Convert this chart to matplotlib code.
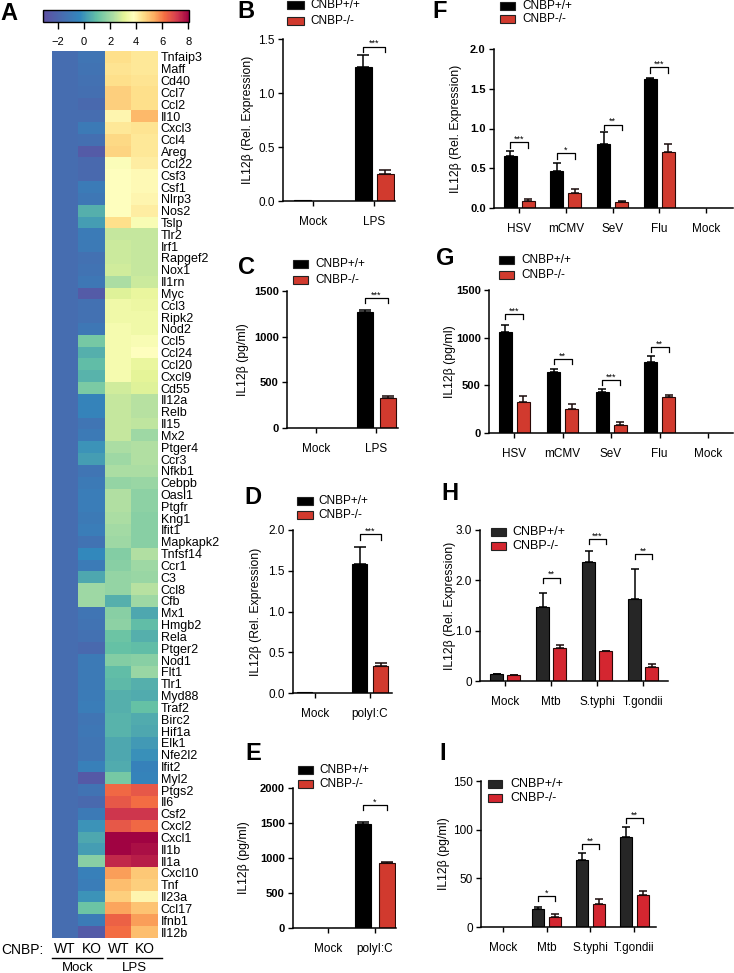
import numpy as np
import matplotlib
matplotlib.use('Agg')
import matplotlib.pyplot as plt
from matplotlib.colors import LinearSegmentedColormap
from matplotlib.patches import Rectangle
from matplotlib.lines import Line2D

plt.rcParams['font.family'] = ['Liberation Sans', 'DejaVu Sans']

W, H = 734, 973
fig = plt.figure(figsize=(W / 100, H / 100), dpi=100)

# ------------------------------------------------------------------ data
genes = ['Tnfaip3', 'Maff', 'Cd40', 'Ccl7', 'Ccl2', 'Il10', 'Cxcl3', 'Ccl4', 'Areg', 'Ccl22',
         'Csf3', 'Csf1', 'Nlrp3', 'Nos2', 'Tslp', 'Tlr2', 'Irf1', 'Rapgef2', 'Nox1', 'Il1rn',
         'Myc', 'Ccl3', 'Ripk2', 'Nod2', 'Ccl5', 'Ccl24', 'Ccl20', 'Cxcl9', 'Cd55', 'Il12a',
         'Relb', 'Il15', 'Mx2', 'Ptger4', 'Ccr3', 'Nfkb1', 'Cebpb', 'Oasl1', 'Ptgfr', 'Kng1',
         'Ifit1', 'Mapkapk2', 'Tnfsf14', 'Ccr1', 'C3', 'Ccl8', 'Cfb', 'Mx1', 'Hmgb2', 'Rela',
         'Ptger2', 'Nod1', 'Flt1', 'Tlr1', 'Myd88', 'Traf2', 'Birc2', 'Hif1a', 'Elk1', 'Nfe2l2',
         'Ifit2', 'Myl2', 'Ptgs2', 'Il6', 'Csf2', 'Cxcl2', 'Cxcl1', 'Il1b', 'Il1a', 'Cxcl10',
         'Tnf', 'Il23a', 'Ccl17', 'Ifnb1', 'Il12b']
wt_mock = [-1.6] * 75
ko_mock = [-1.2, -1.3, -1.4, -1.5, -1.8, -1.6, -1.0, -1.5, -2.5, -1.8,
           -1.8, -0.9, -1.1, 0.6, 0.2, -0.9, -1.0, -1.4, -1.3, -1.1,
           -2.5, -1.4, -1.4, -1.1, 1.3, 0.6, 0.9, 0.7, 1.4, -0.5,
           -0.5, -1.2, -1.0, 0.0, 0.2, -1.2, -1.0, -0.8, -0.8, -1.0,
           -0.8, -1.3, -0.3, -0.9, 0.4, 2.0, 2.0, -1.2, -1.3, -1.4,
           -1.8, -1.0, -1.0, -1.0, -0.9, -0.8, -1.2, -1.1, -1.2, -1.2,
           -0.7, -2.6, -1.3, -1.8, -1.0, 0.0, 0.4, 0.2, 1.6, -0.7,
           -0.8, 0.0, 1.1, -0.9, -2.5]
wt_lps = [4.5, 4.4, 4.5, 4.8, 4.8, 4.0, 4.3, 4.6, 4.7, 3.7,
          3.8, 3.8, 3.8, 3.8, 4.5, 2.6, 2.7, 2.7, 2.8, 2.2,
          3.0, 3.4, 3.4, 3.5, 3.5, 3.5, 3.5, 3.5, 2.8, 2.6,
          2.6, 2.6, 2.6, 2.2, 2.0, 2.2, 1.8, 2.3, 2.3, 2.2,
          2.1, 2.0, 1.5, 1.6, 1.8, 1.8, 0.6, 1.6, 1.7, 1.1,
          1.0, 1.5, 0.9, 0.8, 0.6, 0.6, 0.7, 0.7, 0.4, 0.4,
          0.5, 1.3, 6.3, 6.6, 7.2, 6.6, 8.0, 8.0, 7.4, 5.6,
          5.1, 4.8, 5.5, 6.4, 6.2]
ko_lps = [4.3, 4.3, 4.4, 4.5, 4.5, 5.2, 4.4, 4.3, 4.3, 4.2,
          3.9, 3.9, 4.0, 4.2, 3.6, 2.6, 2.6, 2.6, 2.6, 2.7,
          3.2, 3.3, 3.4, 3.4, 3.6, 3.8, 3.2, 3.1, 3.0, 2.4,
          2.4, 2.5, 2.0, 2.3, 2.3, 2.2, 1.9, 1.7, 1.7, 1.6,
          1.6, 1.6, 2.3, 2.0, 1.9, 2.4, 2.0, 0.4, 0.9, 0.6,
          0.9, 1.6, 1.9, 0.6, 0.5, 1.0, 0.5, 0.4, 0.1, -0.1,
          -0.6, -0.5, 6.6, 6.2, 7.2, 6.3, 8.0, 7.8, 7.6, 4.9,
          4.8, 4.0, 5.0, 5.6, 5.1]
heat_cols = ['WT', 'KO', 'WT', 'KO']
heat_groups = ['Mock', 'LPS']
cbar_ticks = [-2, 0, 2, 4, 6, 8]

series = ['CNBP+/+', 'CNBP-/-']

b_cats = ['Mock', 'LPS']
b_wt, b_wt_err = [0.006, 1.24], [0, 0.11]
b_ko, b_ko_err = [0.0, 0.25], [0, 0.04]
b_sig = [(1, 1.43, '***')]

c_cats = ['Mock', 'LPS']
c_wt, c_wt_err = [0, 1270], [0, 20]
c_ko, c_ko_err = [0, 330], [0, 25]
c_sig = [(1, 1420, '***')]

d_cats = ['Mock', 'polyI:C']
d_wt, d_wt_err = [0.01, 1.58], [0, 0.21]
d_ko, d_ko_err = [0.0, 0.33], [0, 0.04]
d_sig = [(1, 1.95, '***')]

e_cats = ['Mock', 'polyI:C']
e_wt, e_wt_err = [0, 1480], [0, 40]
e_ko, e_ko_err = [0, 930], [0, 10]
e_sig = [(1, 1760, '*')]

f_cats = ['HSV', 'mCMV', 'SeV', 'Flu', 'Mock']
f_wt, f_wt_err = [0.65, 0.47, 0.81, 1.62, 0.006], [0.07, 0.10, 0.14, 0.02, 0]
f_ko, f_ko_err = [0.09, 0.19, 0.07, 0.71, 0.0], [0.02, 0.05, 0.02, 0.09, 0]
f_sig = [(0, 0.83, '***'), (1, 0.69, '*'), (2, 1.05, '**'), (3, 1.77, '***')]

g_cats = ['HSV', 'mCMV', 'SeV', 'Flu', 'Mock']
g_wt, g_wt_err = [1060, 635, 435, 745, 0], [75, 40, 25, 65, 0]
g_ko, g_ko_err = [330, 250, 80, 375, 0], [55, 50, 35, 25, 0]
g_sig = [(0, 1250, '***'), (1, 775, '**'), (2, 555, '***'), (3, 900, '**')]

h_cats = ['Mock', 'Mtb', 'S.typhi', 'T.gondii']
h_wt, h_wt_err = [0.13, 1.47, 2.37, 1.63], [0.01, 0.28, 0.21, 0.60]
h_ko, h_ko_err = [0.11, 0.65, 0.59, 0.27], [0.01, 0.07, 0.01, 0.07]
h_sig = [(1, 2.05, '**'), (2, 2.82, '***'), (3, 2.52, '**')]

i_cats = ['Mock', 'Mtb', 'S.typhi', 'T.gondii']
i_wt, i_wt_err = [0, 18, 69, 92], [0, 3, 7, 11]
i_ko, i_ko_err = [0, 10, 24, 33], [0, 3, 5, 4]
i_sig = [(1, 32, '*'), (2, 85, '**'), (3, 112, '**')]


# ------------------------------------------------------------------ helpers
def px_axes(l, t, r, b):
    return fig.add_axes([l / W, 1 - b / H, (r - l) / W, (b - t) / H])


def fx(x):
    return x / W


def fy(y):
    return 1 - y / H


def letter(txt, x, y):
    fig.text(fx(x), fy(y), txt, fontsize=17, fontweight='bold', ha='center', va='center')


def legend(x, y_black, y_red, sq_w, sq_h, tx, fs, black, red):
    for yy, col, lab in [(y_black, black, series[0]), (y_red, red, series[1])]:
        fig.add_artist(Rectangle((fx(x), fy(yy + sq_h)), sq_w / W, sq_h / H,
                                 transform=fig.transFigure, facecolor=col,
                                 edgecolor='#222222', lw=0.8))
        fig.text(fx(tx), fy(yy + sq_h / 2), lab, fontsize=fs, ha='left', va='center')


def bar_panel(box, c0, sp, cats, wt, wt_err, ko, ko_err, ymax, yticks, ytl, ylabel,
              sigs, width_px, off_px, bold, black, red, label_x, capsize=3.5, yfs=8.5):
    l, t, r, b = box
    ax = px_axes(l, t, r, b)
    x = np.arange(len(cats))
    w = width_px / sp
    off = off_px / sp
    wt_e = [np.zeros(len(cats)), np.array(wt_err, float)]
    ko_e = [np.zeros(len(cats)), np.array(ko_err, float)]
    ax.bar(x - off, wt, w, color=black, edgecolor='black', lw=0.8, zorder=2)
    ax.bar(x + off, ko, w, color=red, edgecolor='#2a0806', lw=0.8, zorder=2)
    m1 = np.array(wt_err) > 0
    m2 = np.array(ko_err) > 0
    ax.errorbar((x - off)[m1], np.array(wt)[m1], yerr=[a[m1] for a in wt_e], fmt='none',
                ecolor='black', elinewidth=1.1, capsize=capsize, capthick=1.1, zorder=3)
    ax.errorbar((x + off)[m2], np.array(ko)[m2], yerr=[a[m2] for a in ko_e], fmt='none',
                ecolor='#1a0a0a', elinewidth=1.1, capsize=capsize, capthick=1.1, zorder=3)
    ax.set_xlim((l - c0) / sp, (r - c0) / sp)
    ax.set_ylim(0, ymax)
    for s in ['top', 'right']:
        ax.spines[s].set_visible(False)
    for s in ['left', 'bottom']:
        ax.spines[s].set_linewidth(1.1)
    ax.set_xticks(x)
    ax.set_xticklabels(cats, fontsize=8.5)
    ax.set_yticks(yticks)
    ax.set_yticklabels(ytl, fontsize=yfs, fontweight='bold' if bold else 'normal')
    ax.tick_params(axis='both', direction='out', length=3.5, width=1.0, pad=2.5)
    ax.tick_params(axis='x', pad=7)
    ax.set_ylabel(ylabel, fontsize=8.8)
    ax.yaxis.set_label_coords((label_x - l) / (r - l), 0.5)
    drop = 0.035 * ymax
    for gi, yy, lab in sigs:
        ax.plot([gi - off, gi - off, gi + off, gi + off], [yy - drop, yy, yy, yy - drop],
                color='black', lw=0.9, clip_on=False)
        ax.text(gi, yy + 0.004 * ymax, lab, fontsize=6.5, ha='center', va='baseline')
    return ax


# ------------------------------------------------------------------ heatmap
vmin, vmax = -3.15, 8.05
anchors = [(-3.15, '#5e4fa2'), (-0.3, '#3288bd'), (1.0, '#66c2a5'), (2.2, '#abdda4'),
           (3.1, '#e6f598'), (3.8, '#ffffbf'), (4.5, '#fee08b'), (5.4, '#fdae61'),
           (6.2, '#f46d43'), (7.1, '#d53e4f'), (8.05, '#9e0142')]
cmap = LinearSegmentedColormap.from_list(
    'hm', [((v - vmin) / (vmax - vmin), c) for v, c in anchors])
data = np.column_stack([wt_mock, ko_mock, wt_lps, ko_lps])
axh = px_axes(52, 51, 158, 938)
im = axh.imshow(data, cmap=cmap, vmin=vmin, vmax=vmax, aspect='auto', interpolation='nearest')
for s in axh.spines.values():
    s.set_visible(False)
axh.yaxis.tick_right()
axh.set_yticks(np.arange(len(genes)))
axh.set_yticklabels(genes, fontsize=9)
axh.set_xticks(np.arange(4))
axh.set_xticklabels(heat_cols, fontsize=10)
axh.tick_params(length=0, pad=2)
axh.tick_params(axis='x', pad=3)
fig.text(fx(22), fy(950), 'CNBP:', fontsize=10, ha='center', va='center')
for (x0, x1), lab in zip([(52, 103), (107, 162)], heat_groups):
    fig.add_artist(Line2D([fx(x0), fx(x1)], [fy(958), fy(958)], color='black', lw=1.0,
                          transform=fig.transFigure))
    fig.text(fx((x0 + x1) / 2), fy(968), lab, fontsize=9.5, ha='center', va='center')

cax = px_axes(43, 10, 189, 22)
cb = fig.colorbar(im, cax=cax, orientation='horizontal', ticks=cbar_ticks)
cb.outline.set_linewidth(1.0)
cax.tick_params(labelsize=8, length=5, width=1.0, pad=6)
letter('A', 9, 13)

# ------------------------------------------------------------------ bar panels
BLK = 'black'
RED = '#d13a2e'
BLK2 = '#262626'
RED2 = '#d42630'
ylab_rel = 'IL12\u03b2 (Rel. Expression)'
ylab_pg = 'IL12\u03b2 (pg/ml)'

# B
bar_panel((283, 39, 395, 201), 313, 61, b_cats, b_wt, b_wt_err, b_ko, b_ko_err, 1.5,
          [0, 0.5, 1.0, 1.5], ['0.0', '0.5', '1.0', '1.5'], ylab_rel, b_sig, 17, 11,
          False, BLK, RED, 254, capsize=4)
letter('B', 246, 12)
legend(287, 1, 17, 17, 8, 310, 8.5, BLK, RED)

# C
bar_panel((287, 291, 398, 428), 316, 60, c_cats, c_wt, c_wt_err, c_ko, c_ko_err, 1500,
          [0, 500, 1000, 1500], ['0', '500', '1000', '1500'], ylab_pg, c_sig, 16, 11.5,
          True, BLK, RED, 249, capsize=4, yfs=8)
letter('C', 247, 268)
legend(293, 260, 276, 15, 8, 315, 8.5, BLK, RED)

# D
bar_panel((293, 530, 392, 693), 315, 55, d_cats, d_wt, d_wt_err, d_ko, d_ko_err, 2.0,
          [0, 0.5, 1.0, 1.5, 2.0], ['0.0', '0.5', '1.0', '1.5', '2.0'], ylab_rel, d_sig,
          15, 10.5, False, BLK, RED, 262, capsize=4)
letter('D', 253, 498)
legend(297, 497, 511, 16, 8, 318, 8.5, BLK, RED)

# E
bar_panel((293, 788, 396, 928), 328, 47, e_cats, e_wt, e_wt_err, e_ko, e_ko_err, 2000,
          [0, 500, 1000, 1500, 2000], ['0', '500', '1000', '1500', '2000'], ylab_pg, e_sig,
          16, 12, True, BLK, RED, 250, capsize=4, yfs=8)
letter('E', 253, 753)
legend(298, 766, 780, 15, 8, 319, 8.5, BLK, RED)

# F
bar_panel((494, 49, 733, 208), 519, 46.8, f_cats, f_wt, f_wt_err, f_ko, f_ko_err, 2.0,
          [0, 0.5, 1.0, 1.5, 2.0], ['0.0', '0.5', '1.0', '1.5', '2.0'], ylab_rel, f_sig,
          13, 9, True, BLK, RED, 462, capsize=3, yfs=8)
letter('F', 440, 12)
legend(500, 2, 15, 15, 8, 522, 8.5, BLK, RED)

# G
bar_panel((489, 290, 733, 433), 514, 48.5, g_cats, g_wt, g_wt_err, g_ko, g_ko_err, 1500,
          [0, 500, 1000, 1500], ['0', '500', '1000', '1500'], ylab_pg, g_sig,
          13, 9, True, BLK, RED, 456, capsize=3, yfs=8)
letter('G', 445, 258)
legend(499, 256, 271, 15, 8, 521, 8.5, BLK, RED)

# H
bar_panel((480, 530, 668, 681), 505, 46, h_cats, h_wt, h_wt_err, h_ko, h_ko_err, 3.0,
          [0, 1, 2, 3], ['0', '1.0', '2.0', '3.0'], ylab_rel, h_sig,
          13, 8.5, False, BLK2, RED2, 456, capsize=3)
letter('H', 450, 493)
legend(491, 528, 542, 15, 8, 512, 9, BLK2, RED2)

# I
bar_panel((481, 781, 656, 927), 503, 43.7, i_cats, i_wt, i_wt_err, i_ko, i_ko_err, 150,
          [0, 50, 100, 150], ['0', '50', '100', '150'], ylab_pg, i_sig,
          12, 8.5, False, BLK2, RED2, 450, capsize=3)
letter('I', 443, 753)
legend(488, 780, 794, 14, 7.5, 510, 9, BLK2, RED2)

fig.savefig('out.png', dpi=100)
